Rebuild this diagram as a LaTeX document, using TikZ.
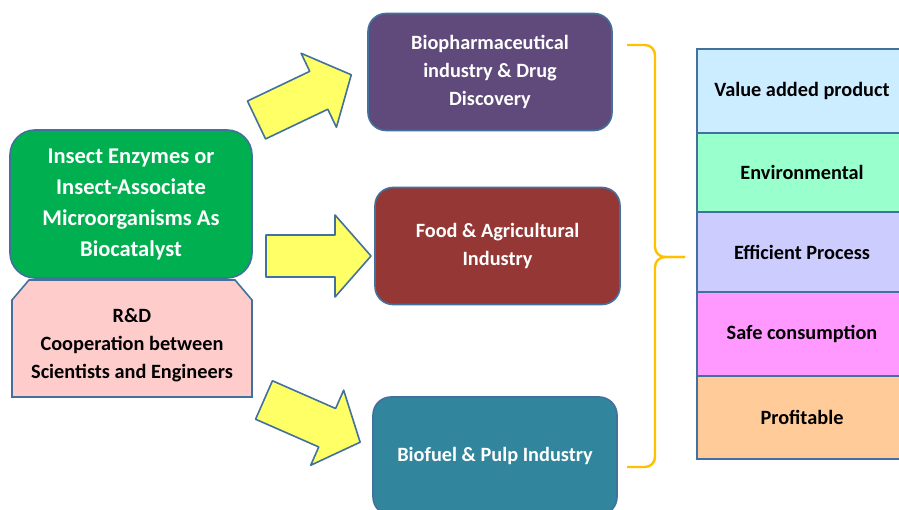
\documentclass[tikz,border=0pt]{standalone}
\usepackage{fontspec}
\setmainfont{Carlito}

\definecolor{boxline}{HTML}{41719C}
\definecolor{enzgreen}{HTML}{00B050}
\definecolor{rdpink}{HTML}{FFCCCC}
\definecolor{pharmpurple}{HTML}{604A7B}
\definecolor{foodred}{HTML}{953735}
\definecolor{fuelteal}{HTML}{31859C}
\definecolor{arrowyellow}{HTML}{FFFF66}
\definecolor{bracegold}{HTML}{FFC000}

\begin{document}
\begin{tikzpicture}[x=1pt, y=-1pt,
    box/.style={draw=boxline, line width=1.6pt, rounded corners=18pt, align=center, text=white, font=\bfseries\fontsize{20.3}{28}\selectfont, minimum width=244pt, minimum height=117pt},
    cell/.style={draw=boxline, line width=1.6pt, align=center, font=\bfseries\fontsize{20.3}{24}\selectfont, minimum width=210pt},
    arrowbody/.style={draw=boxline, line width=1.6pt, fill=arrowyellow, line join=round},
    blockarrow/.pic={\draw[arrowbody] (0,-21) -- (69,-21) -- (69,-41) -- (105,0) -- (69,41) -- (69,21) -- (0,21) -- cycle;}]
    \clip (0,0) rectangle (899,510);
    \fill[white] (0,0) rectangle (899,510);

    % left side
    \draw[draw=boxline, line width=1.6pt, fill=rdpink] (12, 397) -- (12, 300) -- (29, 280) -- (235, 280) -- (252, 300) -- (252, 397) -- cycle;
    \node[align=center, font=\bfseries\fontsize{20.3}{28}\selectfont] at (132, 345) (rd) {R\&D\\Cooperation between\\Scientists and Engineers};
    \node[box, fill=enzgreen, minimum width=242pt, minimum height=148pt, rounded corners=25pt, font=\bfseries\fontsize{22.5}{31}\selectfont] at (131, 204) (enz) {Insect Enzymes or\\Insect-Associate\\Microorganisms As\\Biocatalyst};

    % industries
    \node[box, fill=pharmpurple] at (490, 72) (pharm) {Biopharmaceutical\\industry \& Drug\\Discovery};
    \node[box, fill=foodred, minimum width=245pt] at (497.5, 246) (food) {Food \& Agricultural\\Industry};
    \node[box, fill=fuelteal, minimum height=118pt] at (495, 456) (fuel) {Biofuel \& Pulp Industry};

    \pic[rotate=25.5] at (256.5, 120) {blockarrow};
    \pic at (266, 256) {blockarrow};
    \pic[rotate=-23.7] at (264, 400) {blockarrow};

    % brace
    \coordinate (top) at (627, 45);
    \coordinate (bot) at (627, 467);
    \coordinate (tip) at (685, 257);
    \draw[bracegold, line width=2.4pt, rounded corners=10pt] (top) -| (655, 257) -- (tip);
    \draw[bracegold, line width=2.4pt, rounded corners=10pt] (bot) -| (655, 257) -- (tip);

    % benefits
    \node[cell, fill={rgb,255:red,204;green,236;blue,255}, minimum height=84pt] at (802, 91) (value) {Value added product};
    \node[cell, fill={rgb,255:red,153;green,255;blue,204}, minimum height=79pt] at (802, 172.5) (env) {Environmental};
    \node[cell, fill={rgb,255:red,204;green,204;blue,255}, minimum height=80pt] at (802, 252) (eff) {Efficient Process};
    \node[cell, fill={rgb,255:red,255;green,153;blue,255}, minimum height=84pt] at (802, 334) (safe) {Safe consumption};
    \node[cell, fill={rgb,255:red,255;green,204;blue,153}, minimum height=83pt] at (802, 417.5) (profit) {Profitable};

\end{tikzpicture}
\end{document}
